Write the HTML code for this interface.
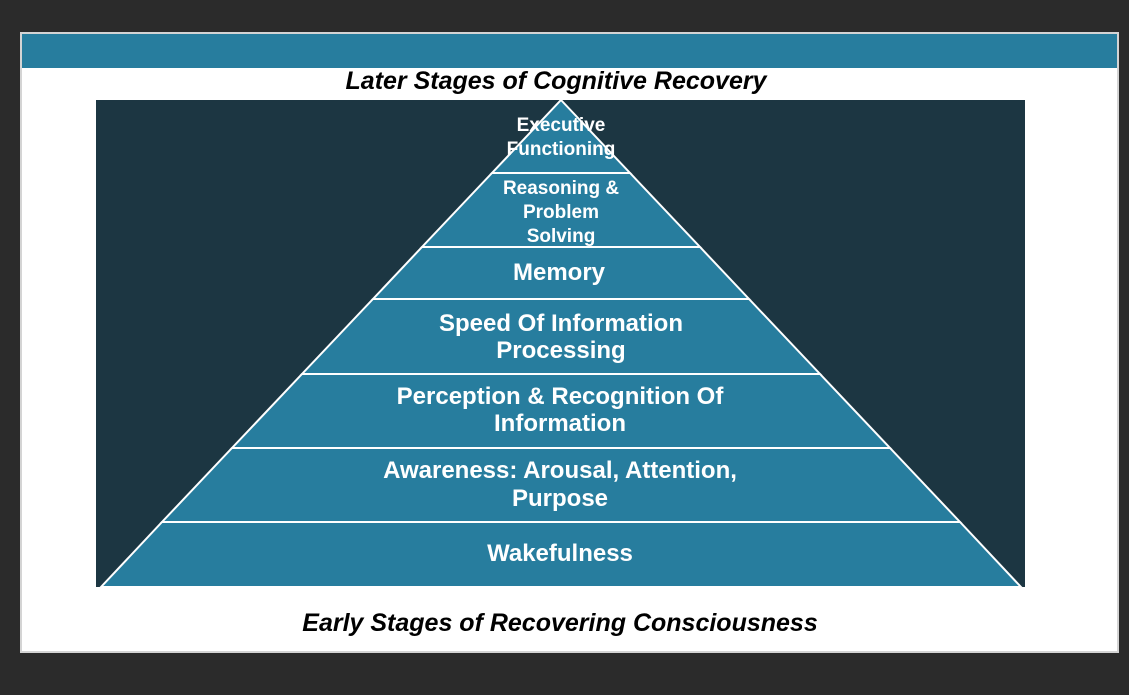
<!DOCTYPE html>
<html><head><style>
body{margin:0;width:1129px;height:695px;background:#2b2b2b;overflow:hidden;font-family:"Liberation Sans",Arial,sans-serif}
.card{position:absolute;left:20px;top:32px;width:1095px;height:617px;background:#fff;border:2px solid #d4d4d4}
</style></head><body>
<div class="card"></div>
<svg width="1129" height="695" style="position:absolute;left:0;top:0" font-family="Liberation Sans, Arial, sans-serif">
<rect x="22" y="34" width="1095" height="34" fill="#277d9e"/>
<text x="556" y="89" text-anchor="middle" font-size="25" font-weight="bold" font-style="italic" fill="#000">Later Stages of Cognitive Recovery</text>
<rect x="96" y="100" width="929" height="487" fill="#1c3642"/>
<g fill="#277d9e" stroke="#fff" stroke-width="2">
<polygon points="561,100 630,173 492,173"/>
<polygon points="492,173 630,173 700,247 422,247"/>
<polygon points="422,247 700,247 749,299 373,299"/>
<polygon points="373,299 749,299 820,374 302,374"/>
<polygon points="302,374 820,374 890,448 232,448"/>
<polygon points="232,448 890,448 960,522 162,522"/>
<polygon points="162,522 960,522 1021,587 101,587"/>
</g>
<g fill="#fff" font-weight="bold" text-anchor="middle">
<text font-size="19" x="561" y="131">Executive</text>
<text font-size="19" x="561" y="155">Functioning</text>
<text font-size="19" x="561" y="194">Reasoning &amp;</text>
<text font-size="19" x="561" y="218">Problem</text>
<text font-size="19" x="561" y="242">Solving</text>
<text font-size="24" x="559" y="280">Memory</text>
<text font-size="24" x="561" y="331">Speed Of Information</text>
<text font-size="24" x="561" y="358">Processing</text>
<text font-size="24" x="560" y="404">Perception &amp; Recognition Of</text>
<text font-size="24" x="560" y="431">Information</text>
<text font-size="24" x="560" y="478">Awareness: Arousal, Attention,</text>
<text font-size="24" x="560" y="506">Purpose</text>
<text font-size="24" x="560" y="561">Wakefulness</text>
</g>
<text x="560" y="631" text-anchor="middle" font-size="25" font-weight="bold" font-style="italic" fill="#000">Early Stages of Recovering Consciousness</text>
</svg>
</body></html>
